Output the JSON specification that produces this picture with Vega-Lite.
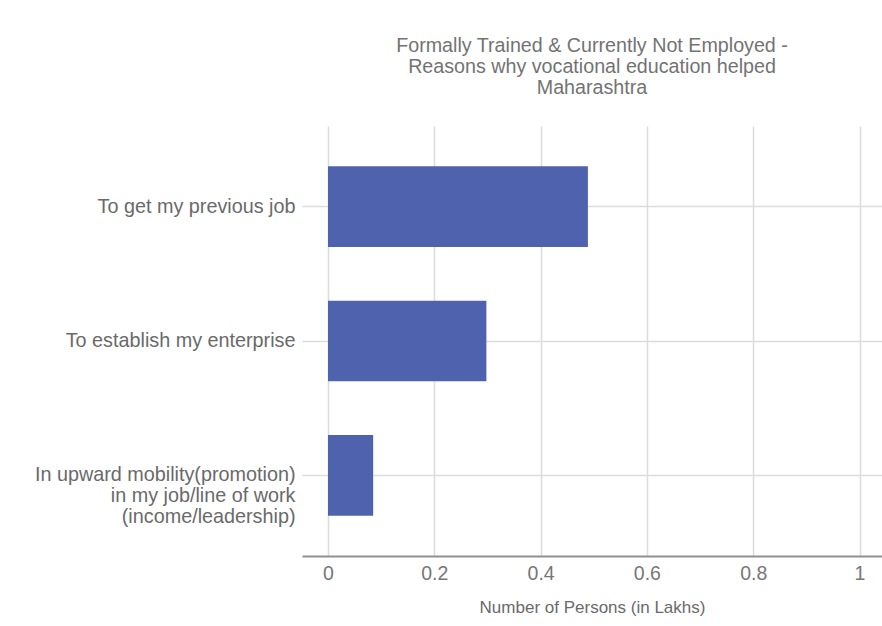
{
  "$schema": "https://vega.github.io/schema/vega-lite/v6.json",
  "width": 580,
  "height": 430,
  "autosize": {"type": "none"},
  "padding": {"left": 302, "top": 126, "right": 0, "bottom": 70},
  "background": "white",
  "title": {
    "text": ["Formally Trained & Currently Not Employed -", "Reasons why vocational education helped", "Maharashtra"],
    "anchor": "middle",
    "frame": "group",
    "font": "Liberation Sans",
    "fontSize": 19.7,
    "fontWeight": "normal",
    "lineHeight": 21,
    "color": "#737373",
    "offset": 28
  },
  "data": {
    "values": [
      {"reason": "To get my previous job", "persons": 0.489},
      {"reason": "To establish my enterprise", "persons": 0.298},
      {"reason": "In upward mobility(promotion)\nin my job/line of work\n(income/leadership)", "persons": 0.085}
    ]
  },
  "mark": {"type": "bar", "color": "#4F62AD"},
  "encoding": {
    "y": {
      "field": "reason",
      "type": "nominal",
      "sort": null,
      "scale": {"paddingInner": 0.4, "paddingOuter": 0.3},
      "axis": {
        "title": null,
        "domain": false,
        "ticks": false,
        "grid": true,
        "bandPosition": 0.5,
        "gridColor": "#dcdcdc",
        "gridWidth": 1.5,
        "labelFont": "Liberation Sans",
        "labelFontSize": 19.8,
        "labelLineHeight": 21,
        "labelColor": "#6a6a6a",
        "labelPadding": 7,
        "labelLimit": 400,
        "labelExpr": "split(datum.label, '\\n')"
      }
    },
    "x": {
      "field": "persons",
      "type": "quantitative",
      "scale": {"domain": [-0.0489, 1.0423], "nice": false, "zero": false},
      "axis": {
        "title": "Number of Persons (in Lakhs)",
        "values": [0, 0.2, 0.4, 0.6, 0.8, 1],
        "labelExpr": "datum.value == 0 ? '0' : datum.value == 1 ? '1' : format(datum.value, '.1f')",
        "ticks": false,
        "grid": true,
        "gridColor": "#dcdcdc",
        "gridWidth": 1.5,
        "domainColor": "#909090",
        "domainWidth": 2,
        "labelFont": "Liberation Sans",
        "labelFontSize": 19.5,
        "labelColor": "#777777",
        "labelPadding": 8,
        "titleFont": "Liberation Sans",
        "titleFontSize": 17,
        "titleFontWeight": "normal",
        "titleColor": "#6a6a6a",
        "titlePadding": 17
      }
    },
    "x2": {"datum": 0}
  },
  "config": {"view": {"stroke": null}}
}
